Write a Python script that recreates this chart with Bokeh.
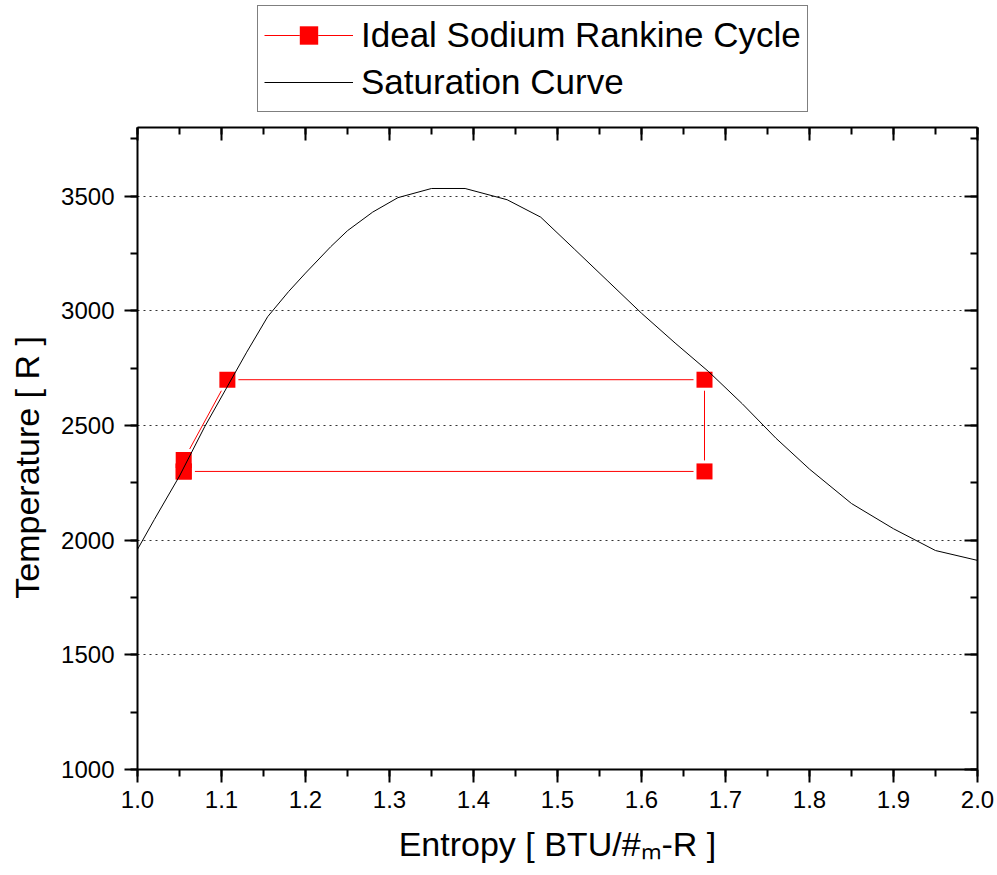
from bokeh.embed import file_html
from bokeh.layouts import column
from bokeh.models import (Legend, LegendItem, LinearAxis, PrintfTickFormatter,
                          Range1d, SingleIntervalTicker)
from bokeh.plotting import figure
from bokeh.resources import INLINE

# Saturation dome of sodium (entropy in BTU/lbm-R, temperature in R)
sat_entropy = [1.00, 1.02, 1.05, 1.08, 1.11, 1.13, 1.155, 1.18, 1.20, 1.23, 1.25, 1.28,
               1.31, 1.35, 1.39, 1.44, 1.48, 1.52, 1.56, 1.60, 1.64, 1.68, 1.72, 1.76,
               1.80, 1.85, 1.90, 1.95, 2.00]
sat_temp = [1960, 2090, 2280, 2495, 2690, 2820, 2975, 3085, 3165, 3280, 3350, 3431,
            3494, 3534, 3534, 3485, 3409, 3270, 3130, 2990, 2860, 2735, 2595, 2445,
            2310, 2160, 2050, 1955, 1912]

# Ideal Rankine cycle state points: pump, boiler, turbine, condenser
cycle_entropy = [1.055, 1.055, 1.107, 1.675, 1.675, 1.055]
cycle_temp = [2300, 2350, 2700, 2700, 2300, 2300]

x_tick_step = 0.1
y_tick_step = 500

FONT = "Liberation Sans"

CYCLE_LINE = dict(line_color="red", line_width=1)
CYCLE_HALO = dict(marker="square", size=22, fill_color="white", line_color=None)
CYCLE_MARK = dict(marker="square", size=16, fill_color="red", line_color=None)
SAT_LINE = dict(line_color="black", line_width=1)

# ---------------------------------------------------------------- main chart
p = figure(width=997, height=750,
           x_range=Range1d(1.0, 2.0), y_range=Range1d(1000, 3800),
           output_backend="svg", toolbar_location=None,
           background_fill_color="white", border_fill_color="white")
p.min_border_left = 137
p.min_border_right = 20
p.min_border_top = 2
p.min_border_bottom = 106
p.outline_line_color = None

x_ticker = SingleIntervalTicker(interval=x_tick_step, num_minor_ticks=2)
y_ticker = SingleIntervalTicker(interval=y_tick_step, num_minor_ticks=2)


def style_axis(ax, inward=False, labels=True):
    ax.axis_line_color = "black"
    ax.axis_line_width = 2
    ax.major_tick_line_color = "black"
    ax.major_tick_line_width = 2
    ax.minor_tick_line_color = "black"
    ax.minor_tick_line_width = 2
    if inward:
        ax.major_tick_in, ax.major_tick_out = 13, 0
        ax.minor_tick_in, ax.minor_tick_out = 7, 0
    else:
        ax.major_tick_in, ax.major_tick_out = 0, 13
        ax.minor_tick_in, ax.minor_tick_out = 0, 7
    if labels:
        ax.major_label_text_font = FONT
        ax.major_label_text_font_size = "24px"
        ax.major_label_text_color = "black"
        ax.axis_label_text_font = FONT
        ax.axis_label_text_font_size = "34px"
        ax.axis_label_text_font_style = "normal"
        ax.axis_label_text_color = "black"
    else:
        ax.major_label_text_font_size = "0px"
        ax.major_label_text_color = None
        ax.major_label_standoff = 0


xax = p.xaxis[0]
xax.ticker = x_ticker
xax.formatter = PrintfTickFormatter(format="%.1f")
style_axis(xax)
xax.major_label_standoff = 8
xax.axis_label = "Entropy [ BTU/#\u2098-R ]"
xax.axis_label_standoff = 14

yax = p.yaxis[0]
yax.ticker = y_ticker
style_axis(yax)
yax.major_label_standoff = 10
# trailing no-break spaces keep the title slightly below the frame centre
yax.axis_label = "Temperature [ R ]" + "\u00a0" * 4
yax.axis_label_standoff = 12

top_ax = LinearAxis(ticker=x_ticker)
style_axis(top_ax, inward=True, labels=False)
p.add_layout(top_ax, "above")

right_ax = LinearAxis(ticker=y_ticker)
style_axis(right_ax, inward=True, labels=False)
p.add_layout(right_ax, "right")

p.xgrid.visible = False
p.ygrid.ticker = y_ticker
p.ygrid.grid_line_color = "#333333"
p.ygrid.grid_line_dash = "2 4"
p.ygrid.grid_line_width = 1

# Cycle path, with a white halo under each marker so the path stops short of it
p.line(cycle_entropy, cycle_temp, **CYCLE_LINE)
p.scatter(cycle_entropy, cycle_temp, **CYCLE_HALO)
p.scatter(cycle_entropy, cycle_temp, **CYCLE_MARK)
p.line(sat_entropy, sat_temp, **SAT_LINE)

# ---------------------------------------------------------------- legend strip
key = figure(width=997, height=125, x_range=Range1d(10, 11), y_range=Range1d(10, 11),
             output_backend="svg", toolbar_location=None,
             x_axis_type=None, y_axis_type=None,
             background_fill_color="white", border_fill_color="white")
key.min_border = 0
key.outline_line_color = None
key.xgrid.visible = False
key.ygrid.visible = False

# same series, styled as in the chart (outside this strip's visible range)
k_line = key.line(cycle_entropy, cycle_temp, **CYCLE_LINE)
k_halo = key.scatter(cycle_entropy, cycle_temp, **CYCLE_HALO)
k_mark = key.scatter(cycle_entropy, cycle_temp, **CYCLE_MARK)
k_sat = key.line(sat_entropy, sat_temp, **SAT_LINE)

# the strip's frame is aligned with the chart frame below it (left edge at 137 px)
legend = Legend(items=[
    LegendItem(label="Ideal Sodium Rankine Cycle", renderers=[k_line, k_halo, k_mark]),
    LegendItem(label="Saturation Curve", renderers=[k_sat]),
], location=(120, 13))
legend.border_line_color = "black"
legend.border_line_width = 1.5
legend.background_fill_color = "white"
legend.background_fill_alpha = 1.0
legend.label_text_font = FONT
legend.label_text_font_size = "35px"
legend.label_text_color = "black"
legend.glyph_width = 89
legend.glyph_height = 46
legend.label_standoff = 8
legend.padding = 6
legend.spacing = 1
legend.margin = 0
key.add_layout(legend)

page = column(key, p, spacing=0)

open("out.html", "w").write(file_html(page, INLINE))
